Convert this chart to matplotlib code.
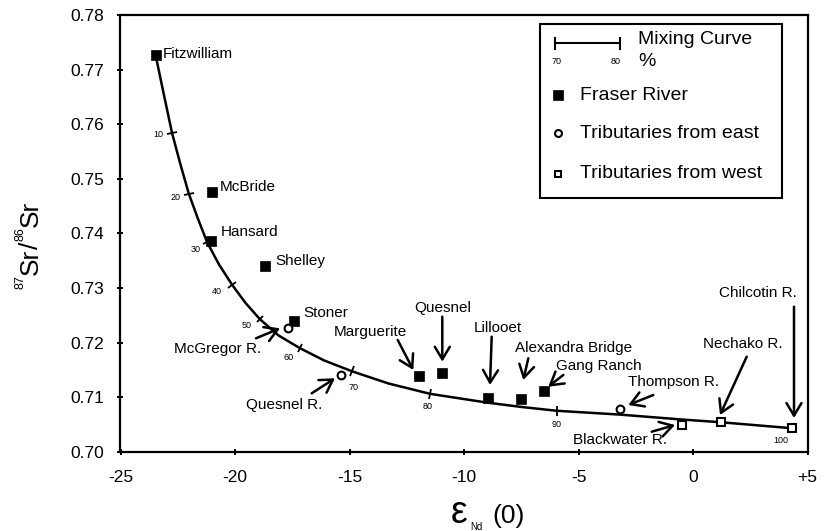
import matplotlib
matplotlib.use("Agg")
import numpy as np
import matplotlib.pyplot as plt
from matplotlib.markers import MarkerStyle
from matplotlib.transforms import Affine2D, IdentityTransform
from matplotlib.patches import Rectangle
from matplotlib.lines import Line2D

plt.rcParams['font.family'] = ['Liberation Sans', 'DejaVu Sans']

# ---------------- data ----------------
fraser_names = ["Fitzwilliam", "McBride", "Hansard", "Shelley", "Stoner",
                "Marguerite", "Quesnel", "Lillooet", "Alexandra Bridge", "Gang Ranch"]
fraser_eps = [-23.47, -21.00, -21.03, -18.71, -17.44, -11.95, -10.95, -8.94, -7.49, -6.51]
fraser_sr = [0.7727, 0.7476, 0.7386, 0.7340, 0.7240, 0.7138, 0.7145, 0.7098, 0.7097, 0.7112]

east_names = ["McGregor R.", "Quesnel R.", "Thompson R."]
east_eps = [-17.69, -15.38, -3.19]
east_sr = [0.7226, 0.7141, 0.7078]

west_names = ["Blackwater R.", "Nechako R.", "Chilcotin R."]
west_eps = [-0.50, 1.24, 4.32]
west_sr = [0.7048, 0.7055, 0.7043]

# mixing curve
curve_eps = [-23.47, -23.10, -22.75, -22.40, -22.02, -21.63, -21.22, -20.70, -20.13,
             -19.55, -18.92, -18.10, -17.18, -16.10, -14.87, -13.30, -11.48, -9.00,
             -7.50, -5.96, -3.20, -0.50, 1.20, 4.32]
curve_sr = [0.7727, 0.7653, 0.7584, 0.7529, 0.7473, 0.7428, 0.7384, 0.7343, 0.7306,
            0.7273, 0.7243, 0.7213, 0.7190, 0.7167, 0.7147, 0.7125, 0.7106, 0.7090,
            0.7082, 0.7075, 0.7068, 0.7059, 0.7054, 0.7043]

# mixing percentage marks on the curve
mix_pct = [10, 20, 30, 40, 50, 60, 70, 80, 90, 100]
mix_eps = [-22.75, -22.02, -21.22, -20.13, -18.92, -17.18, -14.87, -11.48, -5.96, 4.32]
mix_sr = [0.7584, 0.7473, 0.7384, 0.7306, 0.7243, 0.7190, 0.7147, 0.7106, 0.7075, 0.7043]

x_ticks = [-25, -20, -15, -10, -5, 0, 5]
x_tick_labels = ["-25", "-20", "-15", "-10", "-5", "0", "+5"]
y_ticks = [0.70, 0.71, 0.72, 0.73, 0.74, 0.75, 0.76, 0.77, 0.78]

# ---------------- figure ----------------
W, H = 824, 531
fig = plt.figure(figsize=(W / 100, H / 100), dpi=100)
L, R, T, B = 120.5, 807.5, 15.0, 451.7
ax = fig.add_axes([L / W, 1 - B / H, (R - L) / W, (B - T) / H])
ax.set_xlim(-25, 5)
ax.set_ylim(0.70, 0.78)

for sp in ax.spines.values():
    sp.set_linewidth(1.6)
ax.set_xticks(x_ticks)
ax.set_xticklabels(x_tick_labels)
ax.set_yticks(y_ticks)
ax.set_yticklabels([f"{v:.2f}" for v in y_ticks])
ax.tick_params(axis='both', direction='inout', length=5, width=1.4, labelsize=12.5)
ax.tick_params(axis='x', pad=11)
ax.tick_params(axis='y', pad=9)


def P(px, py):
    """pixel (from top-left of image) -> data coords"""
    x = -25 + (px - L) / (R - L) * 30
    y = 0.70 + (B - py) / (B - T) * 0.08
    return (x, y)


# mixing curve
ax.plot(curve_eps, curve_sr, color='black', lw=1.8, zorder=2)

# tick marks perpendicular to the curve + percent labels
fig.canvas.draw()
disp = ax.transData.transform(np.column_stack([curve_eps, curve_sr]))
label_offsets = {10: (-13.4, 1.6), 20: (-13.3, 4.0), 30: (-11.7, 7.3), 40: (-15.0, 6.7),
                 50: (-13.3, 6.7), 60: (-11.0, 9.4), 70: (1.0, 16.3), 80: (-2.3, 12.4),
                 90: (0.0, 13.3), 100: (-10.6, 12.7)}
for p, e, s in zip(mix_pct, mix_eps, mix_sr):
    d = ax.transData.transform((e, s))
    i = int(np.argmin(np.hypot(disp[:, 0] - d[0], disp[:, 1] - d[1])))
    i0, i1 = max(i - 1, 0), min(i + 1, len(disp) - 1)
    ang = np.degrees(np.arctan2(disp[i1, 1] - disp[i0, 1], disp[i1, 0] - disp[i0, 0]))
    if p < 100:
        mk = MarkerStyle('|', transform=Affine2D().rotate_deg(ang))
        ax.plot([e], [s], marker=mk, color='black', markersize=7, mew=1.3, zorder=3)
    dx, dy = label_offsets[p]
    ax.annotate(str(p), xy=(e, s), xytext=(dx, -dy), textcoords='offset pixels',
                ha='center', va='center', fontsize=6.5)

# data points
ax.plot(fraser_eps, fraser_sr, 's', color='black', markersize=7.5, mew=0.5, zorder=4)
ax.plot(east_eps, east_sr, 'o', mfc='white', mec='black', markersize=5.6, mew=1.5, zorder=4)
ax.plot(west_eps, west_sr, 's', mfc='white', mec='black', markersize=5.6, mew=1.5, zorder=4)

# labels
labels = [
    ("Fitzwilliam", 163, 54, 'left'),
    ("McBride", 220, 187.3, 'left'),
    ("Hansard", 221, 232.3, 'left'),
    ("Shelley", 275, 260.7, 'left'),
    ("Stoner", 303, 312.7, 'left'),
    ("Quesnel", 442.2, 308.3, 'center'),
    ("Marguerite", 370, 331.7, 'center'),
    ("McGregor R.", 217.5, 349.3, 'center'),
    ("Quesnel R.", 284, 405, 'center'),
    ("Lillooet", 498, 328.3, 'center'),
    ("Alexandra Bridge", 574, 347.7, 'center'),
    ("Gang Ranch", 599, 365.7, 'center'),
    ("Thompson R.", 673.5, 381.7, 'center'),
    ("Blackwater R.", 620, 440, 'center'),
    ("Nechako R.", 742.5, 344.3, 'center'),
    ("Chilcotin R.", 758.3, 293.3, 'center'),
]
for txt, px, py, ha in labels:
    ax.text(*P(px, py), txt, ha=ha, va='center', fontsize=11, zorder=5)

arrows = [
    ((442.3, 316.7), (442.3, 361.7)),
    ((397.7, 340.0), (413.3, 370.0)),
    ((256.0, 338.3), (280.0, 328.3)),
    ((311.7, 393.3), (335.0, 378.3)),
    ((491.7, 336.7), (490.0, 385.0)),
    ((528.3, 358.3), (523.3, 380.0)),
    ((563.3, 375.0), (548.3, 386.7)),
    ((653.3, 395.0), (628.3, 405.0)),
    ((651.7, 431.7), (675.0, 425.0)),
    ((746.7, 356.7), (720.0, 415.0)),
    ((794.0, 306.7), (794.0, 418.0)),
]
for a, b in arrows:
    ax.annotate('', xy=P(*b), xytext=P(*a),
                arrowprops=dict(arrowstyle='->,head_length=0.75,head_width=0.45',
                                lw=1.8, color='black', shrinkA=0, shrinkB=0,
                                mutation_scale=12), zorder=5)

# ---------------- legend (drawn in pixel space) ----------------
ID = IdentityTransform()


def D(px, py):
    return px, H - py


x0, y0 = D(540, 198)
fig.add_artist(Rectangle((x0, y0), 782 - 540, 198 - 24, transform=ID,
                         fill=True, facecolor='white', edgecolor='black', lw=1.5, zorder=10))
lx0, ly = D(555, 43)
lx1, _ = D(620, 43)
fig.add_artist(Line2D([lx0, lx1], [ly, ly], transform=ID, color='black', lw=1.5, zorder=11))
for xx in (lx0, lx1):
    fig.add_artist(Line2D([xx, xx], [ly - 5.5, ly + 5.5], transform=ID, color='black', lw=1.5, zorder=11))
fig.text(*D(556.7, 62), "70", transform=ID, ha='center', va='center', fontsize=6.5, zorder=11)
fig.text(*D(616, 62), "80", transform=ID, ha='center', va='center', fontsize=6.5, zorder=11)
fig.text(*D(638, 40), "Mixing Curve", transform=ID, ha='left', va='center', fontsize=14, zorder=11)
fig.text(*D(638, 61), "%", transform=ID, ha='left', va='center', fontsize=14, zorder=11)

leg_rows = [
    ("Fraser River", 95, dict(marker='s', color='black', markersize=6.5, mew=0.5)),
    ("Tributaries from east", 133, dict(marker='o', mfc='white', mec='black', markersize=5, mew=1.5)),
    ("Tributaries from west", 174, dict(marker='s', mfc='white', mec='black', markersize=5, mew=1.5)),
]
for txt, py, style in leg_rows:
    mx, my = D(558.3, py)
    fig.add_artist(Line2D([mx], [my], transform=ID, linestyle='none', zorder=11, **style))
    fig.text(*D(580, py), txt, transform=ID, ha='left', va='center', fontsize=14, zorder=11)

# ---------------- axis titles ----------------
renderer = fig.canvas.get_renderer()

# y label: 87Sr/86Sr, rotated, assembled from pieces
pieces = [("87", 9, True), ("Sr", 19, False), ("/", 19, False), ("86", 9, True), ("Sr", 19, False)]
base_x = 38.0
sup_x = 23.0
tmp = []
total = 0.0
for s, size, sup in pieces:
    t = fig.text(0, 0, s, fontsize=size, rotation=90, rotation_mode='anchor',
                 ha='left', va='baseline', transform=ID)
    h = t.get_window_extent(renderer).height
    tmp.append((t, h, sup))
    total += h
yc = H - 245
y = yc - total / 2
for t, h, sup in tmp:
    t.set_position((sup_x if sup else base_x, y))
    y += h

# x label: epsilon_Nd(0)
fig.text(451.0, H - 523.3, "\u03b5", transform=ID, fontsize=27, ha='left', va='baseline')
fig.text(470.5, H - 530.3, "Nd", transform=ID, fontsize=7, ha='left', va='baseline')
fig.text(492.0, H - 523.3, "(0)", transform=ID, fontsize=19, ha='left', va='baseline')

fig.savefig("out.png", dpi=100, facecolor='white')
